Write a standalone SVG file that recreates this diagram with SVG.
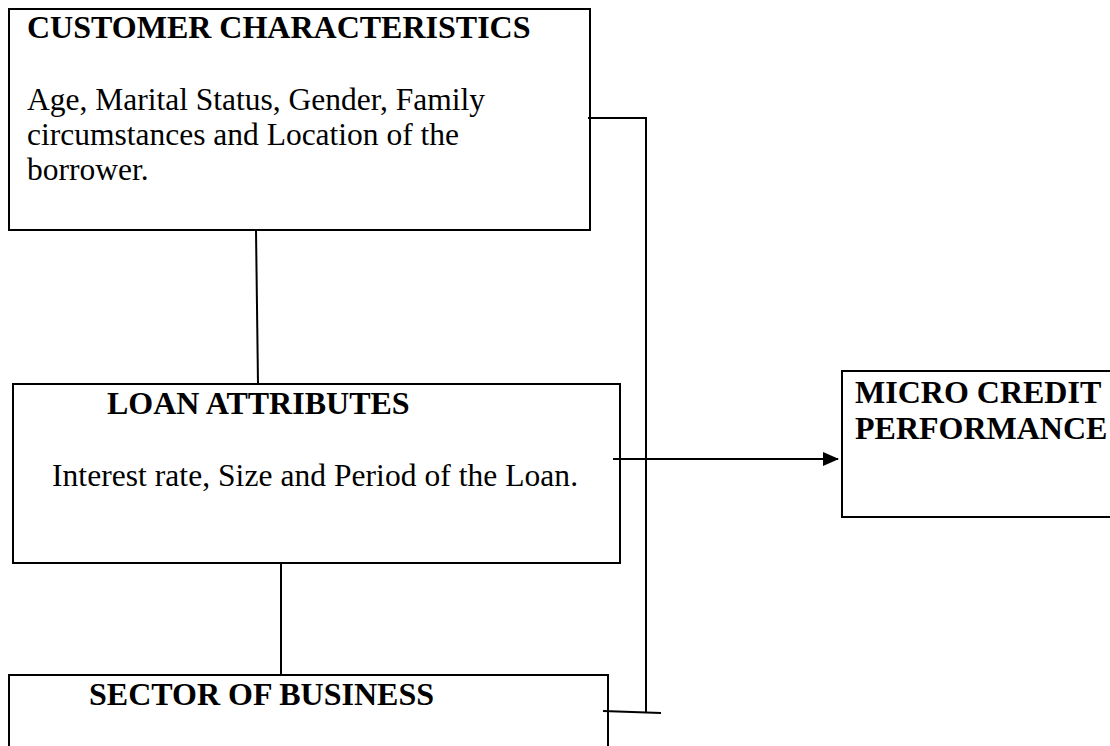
<svg xmlns="http://www.w3.org/2000/svg" width="1110" height="746" viewBox="0 0 1110 746">
<style>
.box{fill:#fff;stroke:#000;stroke-width:2}
.h{font-family:"Liberation Serif",serif;font-weight:bold;font-size:32px;fill:#000}
.t{font-family:"Liberation Serif",serif;font-size:31.5px;fill:#000}
.c{fill:none;stroke:#000;stroke-width:2}
</style>
<defs>
<marker id="ah" markerWidth="16" markerHeight="14" refX="15" refY="7" orient="auto" markerUnits="userSpaceOnUse">
<path d="M0,0 L16,7 L0,14 Z" fill="#000"/>
</marker>
</defs>
<g id="customer">
<rect class="box" x="9" y="9" width="581" height="221"/>
<text class="h" x="27" y="38">CUSTOMER CHARACTERISTICS</text>
<text class="t" x="27" y="110">Age, Marital Status, Gender, Family</text>
<text class="t" x="27" y="145">circumstances and Location of the</text>
<text class="t" x="27" y="180">borrower.</text>
</g>
<g id="loan">
<rect class="box" x="13" y="384" width="607" height="179"/>
<text class="h" x="107" y="414">LOAN ATTRIBUTES</text>
<text class="t" x="52" y="486" textLength="526">Interest rate, Size and Period of the Loan.</text>
</g>
<g id="sector">
<rect class="box" x="9" y="675" width="599" height="100"/>
<text class="h" x="89" y="705">SECTOR OF BUSINESS</text>
</g>
<g id="performance">
<rect class="box" x="842" y="371" width="300" height="146"/>
<text class="h" x="855" y="403">MICRO CREDIT</text>
<text class="h" x="855" y="439">PERFORMANCE</text>
</g>
<g id="connectors">
<line class="c" x1="256" y1="230" x2="258" y2="384"/>
<line class="c" x1="281" y1="563" x2="281" y2="675"/>
<line class="c" x1="588" y1="118" x2="646" y2="118"/>
<line class="c" x1="646" y1="117" x2="646" y2="712"/>
<line class="c" x1="603" y1="711" x2="661" y2="713"/>
<line class="c" x1="613" y1="459" x2="838" y2="459" marker-end="url(#ah)"/>
</g>
</svg>
